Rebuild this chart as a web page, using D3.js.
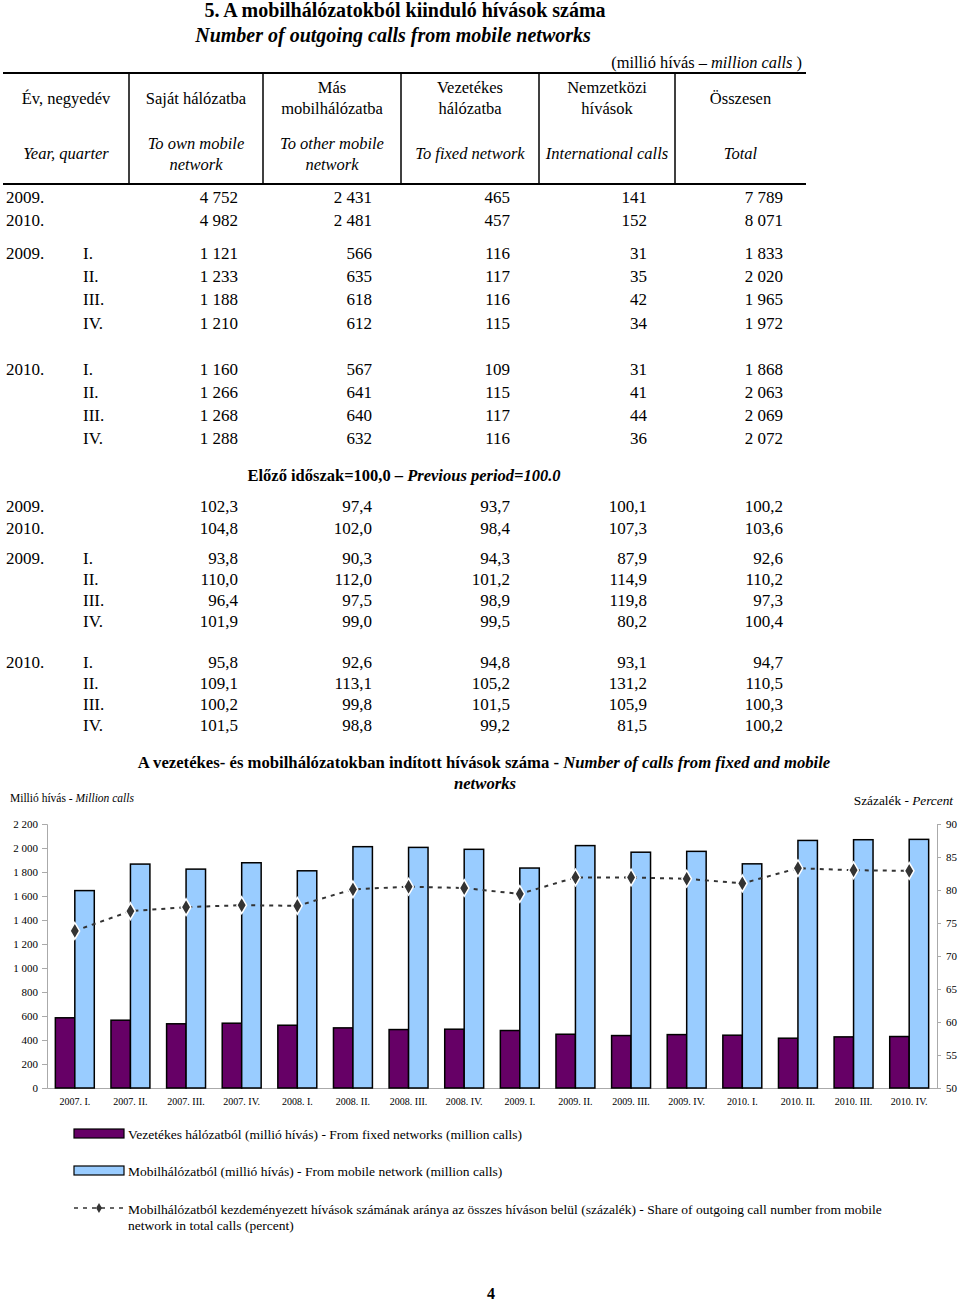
<!DOCTYPE html>
<html><head><meta charset="utf-8">
<script src="https://cdn.jsdelivr.net/npm/d3@7/dist/d3.min.js"></script>
<style>
body{margin:0;background:#fff;}
svg text{font-family:"Liberation Serif","Times New Roman",serif;fill:#000;}
</style></head>
<body><svg id="c" width="960" height="1301"></svg>
<script>
// ---------- table data ----------
const quarters = ["I.","II.","III.","IV."];
const yearLabels = ["2009.","2010."];
const absYearly = [[4752,2431,465,141,7789],[4982,2481,457,152,8071]];
const absQ2009 = [[1121,566,116,31,1833],[1233,635,117,35,2020],[1188,618,116,42,1965],[1210,612,115,34,1972]];
const absQ2010 = [[1160,567,109,31,1868],[1266,641,115,41,2063],[1268,640,117,44,2069],[1288,632,116,36,2072]];
const idxYearly = [[102.3,97.4,93.7,100.1,100.2],[104.8,102.0,98.4,107.3,103.6]];
const idxQ2009 = [[93.8,90.3,94.3,87.9,92.6],[110.0,112.0,101.2,114.9,110.2],[96.4,97.5,98.9,119.8,97.3],[101.9,99.0,99.5,80.2,100.4]];
const idxQ2010 = [[95.8,92.6,94.8,93.1,94.7],[109.1,113.1,105.2,131.2,110.5],[100.2,99.8,101.5,105.9,100.3],[101.5,98.8,99.2,81.5,100.2]];
const headHu = [["Év, negyedév"],["Saját hálózatba"],["Más","mobilhálózatba"],["Vezetékes","hálózatba"],["Nemzetközi","hívások"],["Összesen"]];
const headEn = [["Year, quarter"],["To own mobile","network"],["To other mobile","network"],["To fixed network"],["International calls"],["Total"]];

// ---------- chart data ----------
const periods = ["2007. I.","2007. II.","2007. III.","2007. IV.","2008. I.","2008. II.","2008. III.","2008. IV.","2009. I.","2009. II.","2009. III.","2009. IV.","2010. I.","2010. II.","2010. III.","2010. IV."];
const fixedCalls = [585,565,535,540,523,501,487,490,479,448,437,445,440,415,426,429];
const mobileCalls = [1645,1866,1824,1877,1810,2011,2005,1989,1833,2020,1965,1972,1868,2063,2069,2072];
const mobileShare = [73.8,76.8,77.4,77.7,77.6,80.1,80.5,80.3,79.4,81.9,81.9,81.7,81.0,83.3,83.0,82.9];
const leftTicks = [0,200,400,600,800,1000,1200,1400,1600,1800,2000,2200];
const rightTicks = [50,55,60,65,70,75,80,85,90];

const svg = d3.select("#c");
const loc = d3.formatLocale({decimal:",", thousands:"\u00a0", grouping:[3], currency:["",""]});
const fmtInt = loc.format(",d");
const fmt1 = loc.format(".1f");
const fmtAx = loc.format(",d");

// ---------- titles ----------
svg.append("text").attr("x",405).attr("y",17).attr("text-anchor","middle")
  .style("font-size","20px").style("font-weight","bold").text("5. A mobilhálózatokból kiinduló hívások száma");
svg.append("text").attr("x",393).attr("y",42).attr("text-anchor","middle")
  .style("font-size","20px").style("font-weight","bold").style("font-style","italic").text("Number of outgoing calls from mobile networks");
const unit = svg.append("text").attr("x",802).attr("y",68).attr("text-anchor","end").style("font-size","16.4px");
unit.append("tspan").text("(millió hívás – ");
unit.append("tspan").style("font-style","italic").text("million calls");
unit.append("tspan").text(" )");

// ---------- table header ----------
const colEdges = [3,129,263,401,539,675,806];
const numRight = d3.scaleOrdinal().domain([0,1,2,3,4]).range([238,372,510,647,783]);
svg.append("line").attr("x1",colEdges[0]).attr("x2",colEdges[6]).attr("y1",73).attr("y2",73).attr("stroke","#000").attr("stroke-width",2);
svg.append("line").attr("x1",colEdges[0]).attr("x2",colEdges[6]).attr("y1",184).attr("y2",184).attr("stroke","#000").attr("stroke-width",2);
colEdges.slice(1,6).forEach(x=>{
  svg.append("line").attr("x1",x).attr("x2",x).attr("y1",73).attr("y2",184).attr("stroke","#000").attr("stroke-width",1.5);
});
headHu.forEach((lines,i)=>{
  const cx=(colEdges[i]+colEdges[i+1])/2;
  const y0 = lines.length===1?98:87;
  lines.forEach((t,j)=>svg.append("text").attr("x",cx).attr("y",y0+j*21).attr("dy","0.35em")
    .attr("text-anchor","middle").style("font-size","16.5px").text(t));
});
headEn.forEach((lines,i)=>{
  const cx=(colEdges[i]+colEdges[i+1])/2;
  const y0 = lines.length===1?153:143;
  lines.forEach((t,j)=>svg.append("text").attr("x",cx).attr("y",y0+j*21).attr("dy","0.35em")
    .attr("text-anchor","middle").style("font-size","16.5px").style("font-style","italic").text(t));
});

// ---------- table body ----------
function rowText(y, yearLab, qLab, vals, f){
  if(yearLab) svg.append("text").attr("x",6).attr("y",y).attr("dy","0.35em").style("font-size","17px").text(yearLab);
  if(qLab) svg.append("text").attr("x",83).attr("y",y).attr("dy","0.35em").style("font-size","17px").text(qLab);
  vals.forEach((v,k)=>svg.append("text").attr("x",numRight(k)).attr("y",y).attr("dy","0.35em")
    .attr("text-anchor","end").style("font-size","17px").text(f(v)));
}
function block(top, yStep, qStep, gap1, gap2, yearly, q09, q10, f){
  yearly.forEach((r,i)=>rowText(top+i*yStep, yearLabels[i], null, r, f));
  let y = top + yStep + gap1;
  q09.forEach((r,i)=>rowText(y+i*qStep, i===0?yearLabels[0]:null, quarters[i], r, f));
  y = y + 3*qStep + gap2;
  q10.forEach((r,i)=>rowText(y+i*qStep, i===0?yearLabels[1]:null, quarters[i], r, f));
}
block(197, 23, 23.2, 33, 46, absYearly, absQ2009, absQ2010, fmtInt);
const sub = svg.append("text").attr("x",404).attr("y",475).attr("dy","0.35em").attr("text-anchor","middle")
  .style("font-size","16.5px").style("font-weight","bold");
sub.append("tspan").text("Előző időszak=100,0 – ");
sub.append("tspan").style("font-style","italic").text("Previous period=100.0");
block(506, 22.5, 21, 30, 41, idxYearly, idxQ2009, idxQ2010, fmt1);

// ---------- chart ----------
const x0 = d3.scaleBand().domain(periods).range([47,937]).paddingInner(0.3).paddingOuter(0.15);
const x1 = d3.scaleBand().domain(["fixed","mobile"]).range([0,x0.bandwidth()]);
const yL = d3.scaleLinear().domain([0,2200]).range([1088,824]);
const yR = d3.scaleLinear().domain([50,90]).range([1088,824]);

const ct = svg.append("text").attr("x",484).attr("y",768).attr("text-anchor","middle").style("font-size","16.7px").style("font-weight","bold");
ct.append("tspan").text("A vezetékes- és mobilhálózatokban indított hívások száma - ");
ct.append("tspan").style("font-style","italic").text("Number of calls from fixed and mobile");
svg.append("text").attr("x",485).attr("y",789).attr("text-anchor","middle").style("font-size","16.7px").style("font-weight","bold").style("font-style","italic").text("networks");

const lt = svg.append("text").attr("x",10).attr("y",802).style("font-size","11.5px");
lt.append("tspan").text("Millió hívás - ");
lt.append("tspan").style("font-style","italic").text("Million calls");
const rt = svg.append("text").attr("x",953).attr("y",805).attr("text-anchor","end").style("font-size","13.3px");
rt.append("tspan").text("Százalék - ");
rt.append("tspan").style("font-style","italic").text("Percent");

// axes
const gL = svg.append("g").attr("transform","translate(47,0)")
  .call(d3.axisLeft(yL).tickValues(leftTicks).tickFormat(fmtAx).tickSize(5).tickPadding(4));
const gR = svg.append("g").attr("transform","translate(937,0)")
  .call(d3.axisRight(yR).tickValues(rightTicks).tickSize(4).tickPadding(5));
[gL,gR].forEach(g=>{
  g.select(".domain").attr("stroke","#aaa");
  g.selectAll(".tick line").attr("stroke","#aaa");
  g.selectAll(".tick text").style("font-family","Liberation Serif, serif").style("font-size","11px").attr("fill","#000");
});
const gX = svg.append("g").attr("transform","translate(0,1088)")
  .call(d3.axisBottom(x0).tickSize(0).tickPadding(10));
gX.select(".domain").attr("stroke","#aaa");
gX.selectAll(".tick text").style("font-family","Liberation Serif, serif").style("font-size","10px").attr("fill","#000");

// bars
const groups = svg.append("g").selectAll("g").data(periods).join("g")
  .attr("transform",d=>`translate(${x0(d)},0)`);
groups.append("rect").attr("x",x1("fixed")).attr("width",x1.bandwidth())
  .attr("y",(d,i)=>yL(fixedCalls[i])).attr("height",(d,i)=>yL(0)-yL(fixedCalls[i]))
  .attr("fill","#660066").attr("stroke","#000").attr("stroke-width",1.5);
groups.append("rect").attr("x",x1("mobile")).attr("width",x1.bandwidth())
  .attr("y",(d,i)=>yL(mobileCalls[i])).attr("height",(d,i)=>yL(0)-yL(mobileCalls[i]))
  .attr("fill","#99CCFF").attr("stroke","#000").attr("stroke-width",1.5);

// share line
const cx = d => x0(d)+x0.bandwidth()/2;
const line = d3.line().x((d,i)=>cx(periods[i])).y(d=>yR(d));
svg.append("path").datum(mobileShare).attr("d",line).attr("fill","none")
  .attr("stroke","#333").attr("stroke-width",2).attr("stroke-dasharray","4,5");
svg.append("g").selectAll("path").data(mobileShare).join("path")
  .attr("d",d3.symbol(d3.symbolDiamond,80))
  .attr("transform",(d,i)=>`translate(${cx(periods[i])},${yR(d)})`)
  .attr("fill","#333").attr("stroke","#fff").attr("stroke-width",1.5);

// legend
const leg = svg.append("g");
leg.append("rect").attr("x",74).attr("y",1129).attr("width",50).attr("height",9).attr("fill","#660066").attr("stroke","#000").attr("stroke-width",1.2);
leg.append("text").attr("x",128).attr("y",1134).attr("dy","0.35em").style("font-size","13.5px").text("Vezetékes hálózatból (millió hívás) - From fixed networks (million calls)");
leg.append("rect").attr("x",74).attr("y",1166).attr("width",50).attr("height",9).attr("fill","#99CCFF").attr("stroke","#000").attr("stroke-width",1.2);
leg.append("text").attr("x",128).attr("y",1171).attr("dy","0.35em").style("font-size","13.5px").text("Mobilhálózatból (millió hívás) - From mobile network (million calls)");
leg.append("line").attr("x1",74).attr("x2",124).attr("y1",1208).attr("y2",1208).attr("stroke","#333").attr("stroke-width",1.5).attr("stroke-dasharray","4,5");
leg.append("path").attr("d",d3.symbol(d3.symbolDiamond,30)).attr("transform","translate(99,1208)").attr("fill","#333");
leg.append("text").attr("x",128).attr("y",1209).attr("dy","0.35em").style("font-size","13.5px").text("Mobilhálózatból kezdeményezett hívások számának aránya az összes híváson belül (százalék) - Share of outgoing call number from mobile");
leg.append("text").attr("x",128).attr("y",1225).attr("dy","0.35em").style("font-size","13.5px").text("network in total calls (percent)");

svg.append("text").attr("x",491).attr("y",1299).attr("text-anchor","middle").style("font-size","16px").style("font-weight","bold").text("4");
</script></body></html>
